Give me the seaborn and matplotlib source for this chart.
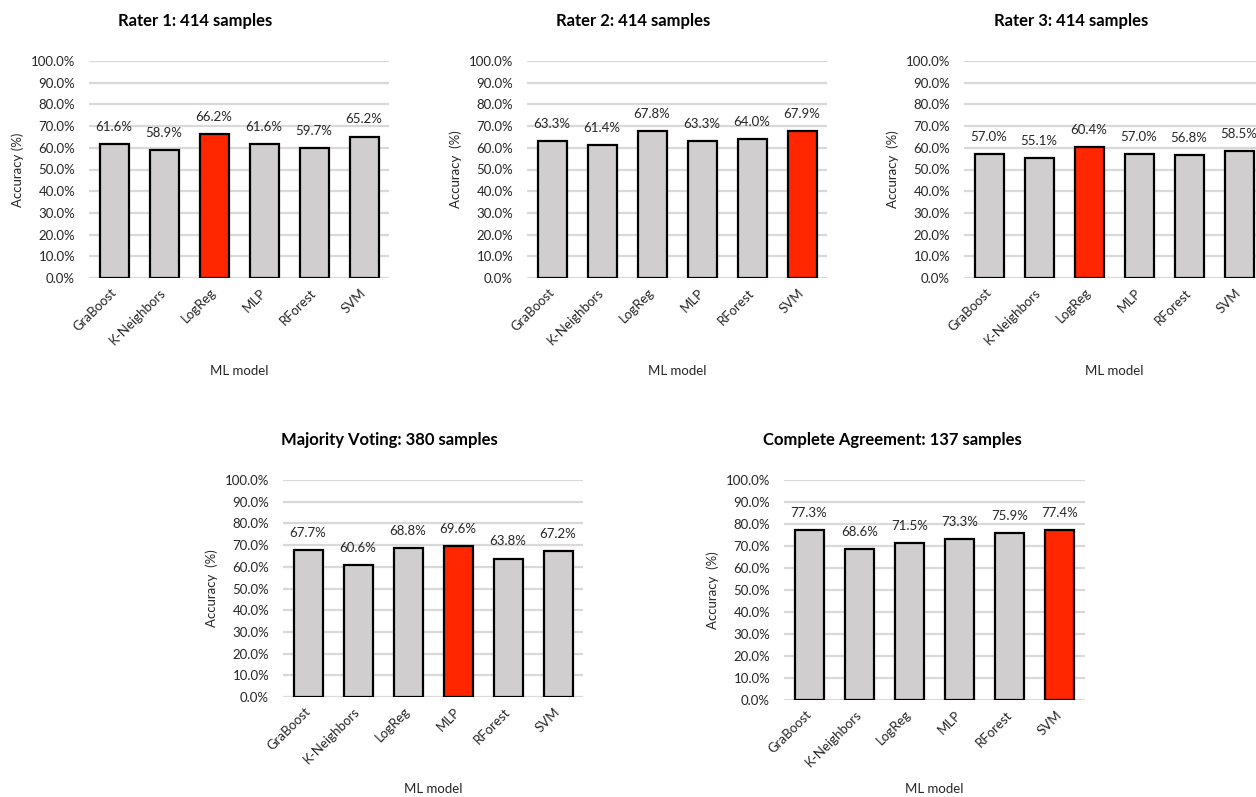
import numpy as np
import matplotlib
matplotlib.use("Agg")
import matplotlib.pyplot as plt
from matplotlib.ticker import PercentFormatter, MultipleLocator
import seaborn as sns

# Model names and accuracy (%) per labelling scheme
models = ["GraBoost", "K-Neighbors", "LogReg", "MLP", "RForest", "SVM"]
rater1 = [61.6, 58.9, 66.2, 61.6, 59.7, 65.2]
rater2 = [63.3, 61.4, 67.8, 63.3, 64.0, 67.9]
rater3 = [57.0, 55.1, 60.4, 57.0, 56.8, 58.5]
majority = [67.7, 60.6, 68.8, 69.6, 63.8, 67.2]
complete = [77.3, 68.6, 71.5, 73.3, 75.9, 77.4]

titles = ["Rater 1: 414 samples", "Rater 2: 414 samples", "Rater 3: 414 samples",
          "Majority Voting: 380 samples", "Complete Agreement: 137 samples"]
ylabels = ["Accuracy (%)", "Accuracy  (%)", "Accuracy  (%)", "Accuracy  (%)", "Accuracy  (%)"]

sns.set_theme(style="white")
plt.rcParams["font.family"] = ["Lato", "DejaVu Sans"]

W, H = 1256, 797
fig = plt.figure(figsize=(W / 100, H / 100), dpi=100)
fig.patch.set_facecolor("white")

GRAY = "#D0CECE"
RED = "#FF2600"
GRID = "#D9D9D9"
TXT = "#262626"

# (left, right, top, bottom) of each plot area in pixels, title centre, x-label top
panels = [
    (rater1, (89, 389, 61, 278), (195, 21), 365),
    (rater2, (527, 827, 61, 278), (633, 21), 365),
    (rater3, (964, 1264, 61, 278), (1071, 21), 365),
    (majority, (283, 583, 480, 697), (389, 440), 783),
    (complete, (784, 1085, 480, 700), (892, 440), 783),
]

for i, (vals, (l, r, t, b), (tx, ty), xl_top) in enumerate(panels):
    ax = fig.add_axes([l / W, 1 - b / H, (r - l) / W, (b - t) / H])
    best = int(np.argmax(vals))
    colors = [RED if k == best else GRAY for k in range(len(models))]
    sns.barplot(x=models, y=vals, hue=models, palette=colors, legend=False,
                width=0.58, edgecolor="black", linewidth=1.6, saturation=1,
                ax=ax, zorder=3)
    ax.set_xlim(-0.5, len(models) - 0.5)
    ax.set_ylim(0, 100)
    ax.yaxis.set_major_locator(MultipleLocator(10))
    ax.yaxis.set_major_formatter(PercentFormatter(decimals=1))
    ax.grid(axis="y", color=GRID, linewidth=1.6, zorder=0)
    ax.grid(axis="x", visible=False)
    ax.set_axisbelow(True)
    for s in ax.spines.values():
        s.set_visible(False)
    ax.tick_params(axis="both", length=0, labelsize=9.5, colors=TXT)
    ax.tick_params(axis="y", pad=10)
    ax.tick_params(axis="x", pad=9)
    for lab in ax.get_xticklabels():
        lab.set_rotation(45)
        lab.set_ha("right")
        lab.set_va("center")
        lab.set_rotation_mode("anchor")
    for c in ax.containers:
        ax.bar_label(c, fmt="%.1f%%", padding=8, fontsize=9.5, color=TXT)
    ax.set_ylabel(ylabels[i], fontsize=9.5, color=TXT)
    ax.set_xlabel("ML model", fontsize=9.5, color=TXT)
    ax.yaxis.set_label_coords(-0.216, 0.5)
    ax.xaxis.set_label_coords(0.5, -(xl_top - b) / (b - t))
    fig.text(tx / W, 1 - ty / H, titles[i], ha="center", va="center",
             fontsize=12, fontweight="bold", color="black")

fig.savefig("out.png", dpi=100, facecolor="white")
